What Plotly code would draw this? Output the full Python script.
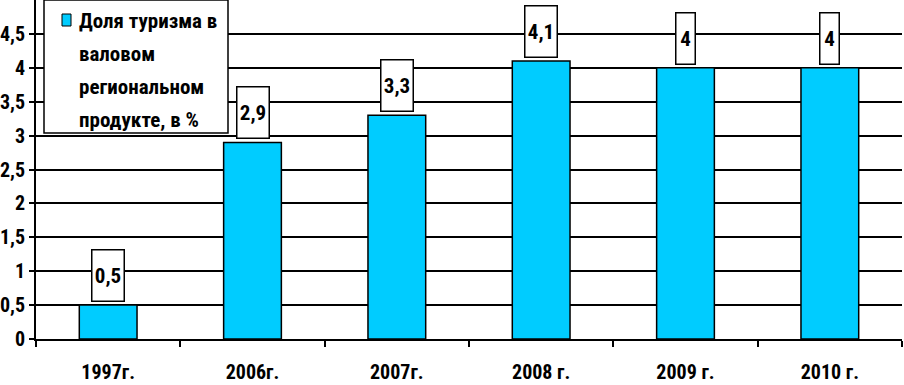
import plotly.graph_objects as go

categories = ["1997г.", "2006г.", "2007г.", "2008 г.", "2009 г.", "2010 г."]
values = [0.5, 2.9, 3.3, 4.1, 4.0, 4.0]
value_labels = ["0,5", "2,9", "3,3", "4,1", "4", "4"]
y_tickvals = [0, 0.5, 1, 1.5, 2, 2.5, 3, 3.5, 4, 4.5]
y_ticktext = ["0", "0,5", "1", "1,5", "2", "2,5", "3", "3,5", "4", "4,5"]
series_name = "Доля туризма в валовом региональном продукте, в %"
legend_lines = ["Доля туризма в", "валовом", "региональном", "продукте, в %"]

FONT = "Roboto Condensed, DejaVu Sans Condensed, sans-serif"
W, H = 904, 385
L, R, T, B = 36, 2, 0, 46
pw, ph = W - L - R, H - T - B

def px_x(p):
    return (p - L) / pw

def px_y(p):
    return (H - B - p) / ph

fig = go.Figure()
fig.add_trace(go.Bar(
    x=categories, y=values, name=series_name, width=0.4,
    marker=dict(color="#00CCFF", line=dict(color="black", width=1.5)),
    showlegend=False,
))

annotations = []
for c, v, t in zip(categories, values, value_labels):
    annotations.append(dict(
        x=c, y=v, xref="x", yref="y", text="<b>%s</b>" % t, showarrow=False,
        yanchor="bottom", yshift=3, font=dict(family=FONT, size=21, color="black"),
        bgcolor="white", bordercolor="black", borderwidth=1.5, borderpad=1,
        width=29 if len(t) > 1 else 16, height=48,
    ))

# legend box drawn as shapes + text lines
shapes = [
    dict(type="rect", xref="paper", yref="paper",
         x0=px_x(44), x1=px_x(228), y0=px_y(133), y1=px_y(0),
         line=dict(color="black", width=1.5), fillcolor="white", layer="above"),
    dict(type="rect", xref="paper", yref="paper",
         x0=px_x(62), x1=px_x(71), y0=px_y(26), y1=px_y(14),
         line=dict(color="black", width=1), fillcolor="#00CCFF", layer="above"),
]
for i, line in enumerate(legend_lines):
    annotations.append(dict(
        x=px_x(77), y=px_y(21 + 33 * i), xref="paper", yref="paper",
        xanchor="left", yanchor="middle", showarrow=False,
        text="<b>%s</b>" % line, font=dict(family=FONT, size=21, color="black"),
    ))

fig.update_layout(
    width=W, height=H, margin=dict(l=L, r=R, t=T, b=B),
    paper_bgcolor="white", plot_bgcolor="white",
    font=dict(family=FONT, color="black"),
    annotations=annotations, shapes=shapes,
    xaxis=dict(
        type="category", range=[-0.5, 5.5], tickson="boundaries", automargin=False,
        ticks="outside", ticklen=6, tickwidth=1.5, tickcolor="black",
        showline=True, linecolor="black", linewidth=2, showgrid=False,
        tickfont=dict(family=FONT, size=20, color="black"),
        ticklabelstandoff=14,
        tickvals=categories, ticktext=["<b>%s</b>" % c for c in categories],
    ),
    yaxis=dict(
        range=[0, 5], tickvals=y_tickvals, ticktext=["<b>%s</b>" % t for t in y_ticktext],
        ticks="outside", ticklen=5, tickwidth=1.5, tickcolor="black", automargin=False,
        showline=True, linecolor="black", linewidth=2,
        showgrid=True, gridcolor="black", gridwidth=2, zeroline=False,
        tickfont=dict(family=FONT, size=20, color="black"),
    ),
)

fig.write_html("out.html", config={"displayModeBar": False},
               post_script="document.body.style.margin='0';")
